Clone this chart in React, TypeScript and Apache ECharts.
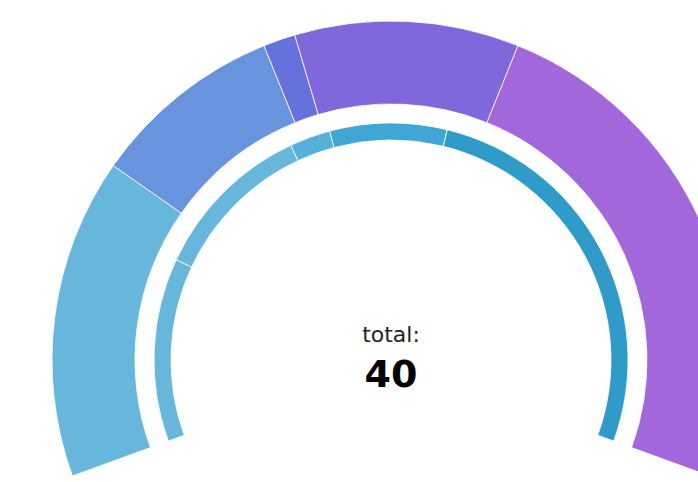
import React, { useEffect, useRef } from "react";
import * as echarts from "echarts";

const outerNames = ["A", "B", "C", "D", "E"];
const outerValues = [10, 6, 1, 7, 16];
const outerColors = ["#67b7dc", "#6794dc", "#6771dc", "#8067dc", "#a367dc"];

const innerNames = ["a", "b", "c", "d", "e"];
const innerValues = [9, 8, 2, 5.75, 19.25];
const innerColors = ["#67b7dc", "#67b7dc", "#55b0da", "#40a6d4", "#2f9bc9"];

const totalLabel = "total:";
const totalValue = "40";

export default function App() {
  const ref = useRef<HTMLDivElement>(null);
  useEffect(() => {
    if (!ref.current) return;
    const chart = echarts.init(ref.current, null, { renderer: "svg" });
    const common = {
      type: "pie",
      center: [391, 360],
      startAngle: 200,
      endAngle: -20,
      clockwise: true,
      label: { show: false },
      labelLine: { show: false },
      emphasis: { disabled: true },
      silent: true,
    };
    chart.setOption({
      animation: false,
      backgroundColor: "#ffffff",
      series: [
        {
          ...common,
          name: "outer",
          radius: [256, 339],
          itemStyle: { borderColor: "rgba(255,255,255,0.8)", borderWidth: 1 },
          data: outerValues.map((v, i) => ({
            name: outerNames[i],
            value: v,
            itemStyle: { color: outerColors[i] },
          })),
        },
        {
          ...common,
          name: "inner",
          radius: [220, 237],
          itemStyle: { borderColor: "rgba(255,255,255,0.8)", borderWidth: 1 },
          data: innerValues.map((v, i) => ({
            name: innerNames[i],
            value: v,
            itemStyle: { color: innerColors[i] },
          })),
        },
      ],
      graphic: [
        {
          type: "text",
          x: 391,
          y: 334,
          style: {
            text: totalLabel,
            align: "center",
            verticalAlign: "middle",
            fontFamily: "DejaVu Sans",
            fontSize: 22,
            fill: "#222222",
          },
        },
        {
          type: "text",
          x: 391,
          y: 374,
          style: {
            text: totalValue,
            align: "center",
            verticalAlign: "middle",
            fontFamily: "DejaVu Sans",
            fontWeight: "bold",
            fontSize: 38,
            fill: "#000000",
          },
        },
      ],
    });
    return () => chart.dispose();
  }, []);
  return (
    <div
      ref={ref}
      style={{ position: "fixed", left: 0, top: 0, width: 698, height: 482 }}
    />
  );
}
